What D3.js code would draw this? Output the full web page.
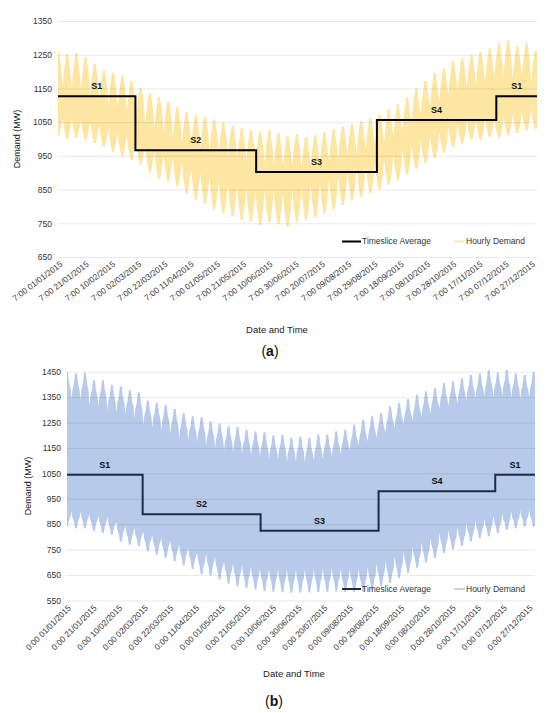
<!DOCTYPE html>
<html>
<head>
<meta charset="utf-8">
<script src="https://cdn.jsdelivr.net/npm/d3@7"></script>
<style>
  body { margin: 0; background: #fff; }
  text { font-family: "Liberation Sans", Arial, sans-serif; }
</style>
</head>
<body>
<svg id="fig" width="550" height="713"></svg>
<script>
// x tick labels, every 20 days
var dateLabels = ["01/01/2015", "21/01/2015", "10/02/2015", "02/03/2015", "22/03/2015",
    "11/04/2015", "01/05/2015", "21/05/2015", "10/06/2015", "30/06/2015", "20/07/2015",
    "09/08/2015", "29/08/2015", "18/09/2015", "08/10/2015", "28/10/2015", "17/11/2015",
    "07/12/2015", "27/12/2015"];
var tickDays = [0, 20, 40, 60, 80, 100, 120, 140, 160, 180, 200, 220, 240, 260, 280, 300, 320, 340, 360];

var yTicksA = [650, 750, 850, 950, 1050, 1150, 1250, 1350];
var yTicksB = [550, 650, 750, 850, 950, 1050, 1150, 1250, 1350, 1450];

// timeslices (day of year)
var sliceNames = ["S1", "S2", "S3", "S4", "S1"];
var sliceStart = [0, 59, 151, 243, 334];
var sliceEnd = [59, 151, 243, 334, 365];
var sliceAvgA = [1127, 967, 902, 1056, 1127];
var sliceAvgB = [1044, 889, 824, 980, 1044];

// hourly demand (a), read per week: spike top, upper notch, lower notch, spike bottom
var peakA = [1259, 1251, 1255, 1243, 1223, 1205, 1197, 1189, 1172, 1153, 1136, 1124, 1111, 1096, 1081,
    1072, 1066, 1058, 1050, 1040, 1032, 1027, 1022, 1025, 1017, 1008, 1015, 1005, 1012, 1020,
    1030, 1038, 1045, 1053, 1062, 1072, 1088, 1102, 1122, 1150, 1172, 1196, 1210, 1232, 1240,
    1250, 1259, 1269, 1284, 1292, 1276, 1286, 1262];
var highA = [1160, 1155, 1152, 1145, 1128, 1112, 1102, 1093, 1078, 1060, 1043, 1032, 1018, 1003, 990,
    980, 972, 965, 957, 948, 940, 934, 929, 930, 924, 917, 920, 913, 918, 926,
    935, 943, 950, 958, 968, 978, 992, 1006, 1026, 1052, 1075, 1098, 1112, 1133, 1142,
    1152, 1160, 1170, 1184, 1190, 1178, 1186, 1165];
var lowA = [1065, 1060, 1062, 1056, 1050, 1040, 1028, 1016, 1008, 995, 975, 960, 955, 942, 925,
    908, 898, 882, 873, 865, 857, 853, 843, 850, 847, 840, 850, 855, 864, 872,
    882, 894, 906, 915, 922, 930, 942, 953, 968, 982, 996, 1008, 1022, 1035, 1045,
    1056, 1054, 1064, 1060, 1068, 1074, 1082, 1088];
var troughA = [1007, 1000, 1003, 996, 988, 976, 962, 948, 938, 923, 900, 882, 875, 859, 839,
    820, 808, 790, 780, 770, 760, 755, 744, 752, 748, 740, 752, 758, 768, 778,
    790, 804, 818, 829, 839, 850, 864, 878, 896, 912, 928, 943, 960, 975, 986,
    998, 996, 1006, 1002, 1011, 1017, 1025, 1030];

// hourly demand (b)
var peakB = [1450, 1444, 1447, 1417, 1416, 1398, 1392, 1378, 1368, 1337, 1329, 1320, 1303, 1287, 1275,
    1272, 1255, 1246, 1236, 1233, 1223, 1216, 1212, 1200, 1203, 1190, 1195, 1190, 1203, 1203,
    1216, 1223, 1242, 1262, 1275, 1288, 1314, 1327, 1343, 1360, 1373, 1386, 1406, 1412, 1425,
    1438, 1444, 1457, 1447, 1457, 1444, 1438, 1450];
var highB = [1345, 1342, 1340, 1318, 1312, 1298, 1290, 1278, 1266, 1240, 1230, 1220, 1205, 1190, 1178,
    1172, 1158, 1150, 1140, 1135, 1126, 1120, 1115, 1105, 1104, 1095, 1098, 1094, 1102, 1105,
    1115, 1124, 1140, 1160, 1175, 1188, 1212, 1226, 1242, 1258, 1272, 1285, 1304, 1312, 1324,
    1336, 1344, 1354, 1348, 1355, 1345, 1340, 1348];
var lowB = [906, 900, 900, 890, 884, 878, 855, 843, 838, 820, 808, 797, 785, 770, 758,
    738, 735, 720, 705, 696, 690, 684, 678, 676, 674, 672, 672, 673, 675, 676,
    677, 675, 674, 675, 684, 696, 708, 725, 744, 762, 780, 798, 816, 828, 840,
    856, 866, 872, 883, 894, 900, 905, 905];
var troughB = [841, 834, 834, 822, 815, 808, 782, 769, 763, 743, 730, 717, 704, 687, 674,
    652, 648, 632, 616, 606, 599, 593, 586, 584, 582, 580, 580, 581, 583, 584,
    585, 583, 583, 583, 593, 606, 619, 638, 658, 678, 698, 717, 737, 750, 763,
    782, 795, 802, 815, 828, 834, 840, 840];

var svg = d3.select("#fig");
svg.append("rect").attr("width", 550).attr("height", 713).attr("fill", "#fff");

function drawPanel(o) {
    var g = svg.append("g");
    var x = d3.scaleLinear().domain([0, 365]).range([o.left, o.right]);
    var y = d3.scaleLinear().domain([o.ticks[0], o.ticks[o.ticks.length - 1]]).range([o.bottom, o.top]);

    // weekly spike outline: notch -> shoulder -> tip (offsets in days, share of spike height)
    var pts = [];
    o.peak.forEach((p, i) => {
        o.glyph.forEach(([dx, f]) => pts.push({
            day: i * 7 + dx,
            hi: o.high[i] + f * (p - o.high[i]),
            lo: o.low[i] - f * (o.low[i] - o.trough[i])
        }));
    });
    var last = o.peak.length - 1;
    pts.push({ day: last * 7 + 3.5, hi: o.high[last], lo: o.low[last] });

    svg.append("clipPath").attr("id", "clip" + o.letter)
        .append("rect").attr("x", o.left).attr("y", 0)
        .attr("width", o.right - o.left).attr("height", 713);

    g.append("path")
        .datum(pts)
        .attr("clip-path", `url(#clip${o.letter})`)
        .attr("fill", o.color)
        .attr("d", d3.area().x(d => x(d.day)).y0(d => y(d.lo)).y1(d => y(d.hi)));

    // grid
    g.append("g").selectAll("line")
        .data(o.ticks)
        .join("line")
        .attr("x1", o.left).attr("x2", o.right)
        .attr("y1", d => y(d) + 0.5).attr("y2", d => y(d) + 0.5)
        .attr("stroke", "#000")
        .attr("stroke-opacity", 0.11)
        .attr("stroke-width", 0.8);

    // y axis
    var yAxis = g.append("g")
        .attr("transform", `translate(${o.left},0)`)
        .call(d3.axisLeft(y).tickValues(o.ticks).tickSize(0).tickPadding(6).tickFormat(d3.format("d")))
        .call(a => a.select(".domain").remove());
    yAxis.selectAll("text")
        .attr("font-family", "\"Liberation Sans\", Arial, sans-serif")
        .attr("font-size", 8.5)
        .attr("fill", "#333");

    // x axis
    var xAxis = g.append("g")
        .attr("transform", `translate(0,${o.bottom})`)
        .call(d3.axisBottom(x).tickValues(tickDays).tickSize(0)
            .tickFormat((d, i) => o.timePrefix + " " + dateLabels[i]))
        .call(a => a.select(".domain").remove());
    xAxis.selectAll("text")
        .attr("font-family", "\"Liberation Sans\", Arial, sans-serif")
        .attr("font-size", 8.3)
        .attr("fill", "#333")
        .attr("text-anchor", "end")
        .attr("x", 0).attr("y", 0).attr("dy", "0.35em")
        .attr("transform", `translate(${o.labelDx},${o.labelDy}) rotate(${o.labelAngle})`);

    // timeslice average
    var steps = sliceStart.map((s, i) => ({ day: s, v: o.avg[i] }));
    steps.push({ day: 365, v: o.avg[o.avg.length - 1] });
    g.append("path")
        .datum(steps)
        .attr("fill", "none")
        .attr("stroke", o.lineColor)
        .attr("stroke-width", 2)
        .attr("d", d3.line().x(d => x(d.day)).y(d => y(d.v)).curve(d3.curveStepAfter));

    g.append("g").selectAll("text")
        .data(sliceNames)
        .join("text")
        .attr("x", (d, i) => x((sliceStart[i] + sliceEnd[i]) / 2))
        .attr("y", (d, i) => y(o.avg[i]) - 7)
        .attr("text-anchor", "middle")
        .attr("font-size", 9)
        .attr("font-weight", "bold")
        .attr("fill", "#111")
        .text(d => d);

    // y title
    g.append("text")
        .attr("transform", `translate(${o.yTitleX},${(o.top + o.bottom) / 2}) rotate(-90)`)
        .attr("text-anchor", "middle")
        .attr("dy", "0.35em")
        .attr("font-size", 9)
        .attr("fill", "#222")
        .text("Demand (MW)");

    // x title
    g.append("text")
        .attr("x", o.xTitleX).attr("y", o.xTitleY)
        .attr("text-anchor", "middle")
        .attr("font-size", 9.5)
        .attr("fill", "#222")
        .text("Date and Time");

    // legend
    var leg = g.append("g").attr("transform", `translate(0,${o.legendY})`);
    leg.append("line").attr("x1", 342).attr("x2", 361).attr("y1", 0).attr("y2", 0)
        .attr("stroke", o.lineColor).attr("stroke-width", 2);
    leg.append("text").attr("x", 362).attr("y", 0).attr("dy", "0.35em")
        .attr("font-size", 8.5).attr("fill", "#333").text("Timeslice Average");
    leg.append("line").attr("x1", 454).attr("x2", 465).attr("y1", 0).attr("y2", 0)
        .attr("stroke", o.color).attr("stroke-width", 1.6);
    leg.append("text").attr("x", 466).attr("y", 0).attr("dy", "0.35em")
        .attr("font-size", 8.5).attr("fill", "#333").text("Hourly Demand");

    // caption
    var cap = g.append("text")
        .attr("x", o.capX).attr("y", o.capY)
        .attr("text-anchor", "middle")
        .attr("font-family", "\"Liberation Serif\", \"Times New Roman\", serif")
        .attr("font-size", 14)
        .attr("fill", "#111");
    cap.append("tspan").text("(");
    cap.append("tspan").attr("font-weight", "bold").text(o.letter);
    cap.append("tspan").text(")");
}

drawPanel({
    left: 58, right: 537, top: 21, bottom: 257,
    ticks: yTicksA, peak: peakA, high: highA, low: lowA, trough: troughA, avg: sliceAvgA,
    color: "#fde6a2", lineColor: "#000",
    glyph: [[-3.5, 0], [-2.4, 0.5], [-1.4, 0.8], [-0.8, 1], [0.8, 1], [1.4, 0.8], [2.4, 0.5]],
    timePrefix: "7:00", labelDx: 3, labelDy: 6, labelAngle: -37,
    yTitleX: 17, xTitleX: 277, xTitleY: 333, legendY: 241.5,
    capX: 270, capY: 356, letter: "a"
});

drawPanel({
    left: 67, right: 535, top: 371.7, bottom: 600.4,
    ticks: yTicksB, peak: peakB, high: highB, low: lowB, trough: troughB, avg: sliceAvgB,
    color: "#b8cae9", lineColor: "#1d2b4a",
    glyph: [[-3.5, 0], [-2.8, 0.35], [-1.6, 0.6], [-0.7, 1], [0.7, 1], [1.6, 0.6], [2.8, 0.35]],
    timePrefix: "0:00", labelDx: 2, labelDy: 6, labelAngle: -45,
    yTitleX: 28, xTitleX: 294, xTitleY: 677, legendY: 589,
    capX: 274, capY: 706, letter: "b"
});
</script>
</body>
</html>
